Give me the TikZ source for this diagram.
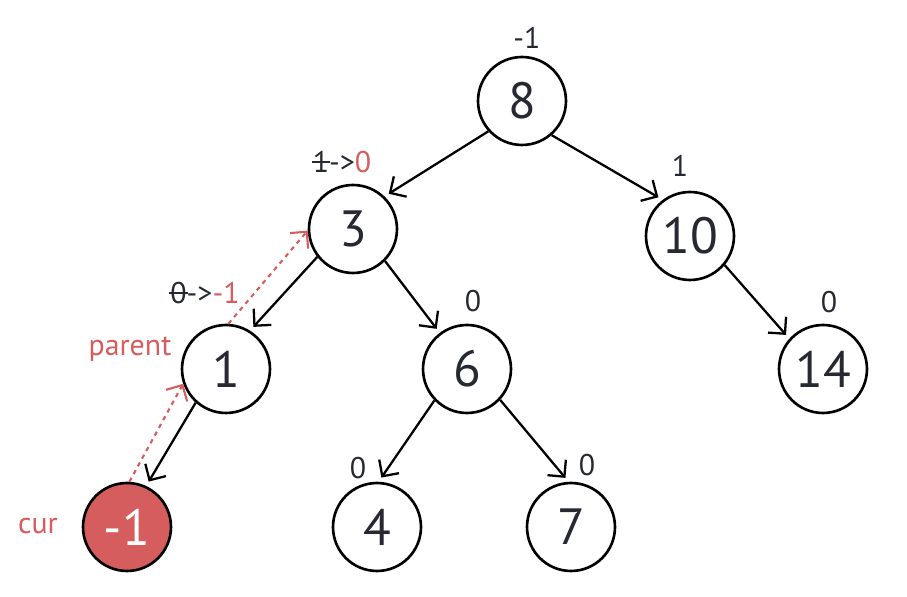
\documentclass[tikz,border=0pt]{standalone}
\usepackage{fontspec}
\setmainfont{PT Sans}
\usepackage{tikz}
\usetikzlibrary{arrows.meta}
\definecolor{ink}{RGB}{38,40,50}
\definecolor{coral}{RGB}{214,93,93}
\newcommand\struck[1]{\ooalign{#1\cr\hidewidth\rule[0.33em]{0.62em}{0.07em}\hidewidth\cr}}

\begin{document}
\begin{tikzpicture}[x=0.02cm, y=-0.02cm, >={Straight Barb[length=2.4mm,width=4.8mm]},
    vert/.style={draw,circle,line width=1.5pt,minimum size=1.76cm,inner sep=0pt,text=ink,font=\fontsize{29}{31}\selectfont},
    bal/.style={text=ink,inner sep=0pt,font=\fontsize{17}{20}\selectfont},
    tag/.style={text=coral,inner sep=0pt,font=\fontsize{17}{20}\selectfont},
    edge/.style={->,line width=1.3pt,shorten >=0.1cm},
    trail/.style={->,coral,line width=1.2pt,dash pattern=on 2.5pt off 2.5pt}]

    \useasboundingbox (0,0) rectangle (907,597);

    % the tree
    \node[vert] (n8) at (522,101) {8};
    \node[vert] (n3) at (353,229) {3};
    \node[vert] (n10) at (690,236) {10};
    \node[vert] (n1) at (226,369) {1};
    \node[vert] (n6) at (467,369) {6};
    \node[vert] (n14) at (823,369) {14};
    \node[vert,fill=coral,text=white] (cur) at (127,527) {-1};
    \node[vert] (n4) at (377,527) {4};
    \node[vert] (n7) at (571,527) {7};

    % balance factors
    \node[bal] (b8) at (527,38) {-1};
    \node[bal] (b3) at (342,162) {\struck{1}->\textcolor{coral}{0}};
    \node[bal] (b10) at (680,166) {1};
    \node[bal] (b1) at (205,293) {\struck{0}->\textcolor{coral}{-1}};
    \node[bal] (b6) at (473,301) {0};
    \node[bal] (b14) at (829,302) {0};
    \node[bal] (b4) at (358,468) {0};
    \node[bal] (b7) at (587,465) {0};

    \node[tag] (lparent) at (130,349) {parent};
    \node[tag] (lcur) at (38,526) {cur};

    \draw[edge] (n8.222) -- (n3.46);
    \draw[edge] (n8.311) -- (n10.127);
    \draw[edge] (n3.218) -- (n1.58);
    \draw[edge] (n3.315) -- (n6.127);
    \draw[edge] (n10.320) -- (n14.138);
    \draw[edge] (n1.228) -- (cur.65);
    \draw[edge] (n6.224) -- (n4.88);
    \draw[edge] (n6.317) -- (n7.93);

    % walking back up
    \draw[trail] (cur.87) -- (n1.199);
    \draw[trail] (n1.87) -- (n3.182);
  \end{tikzpicture}
\end{document}
